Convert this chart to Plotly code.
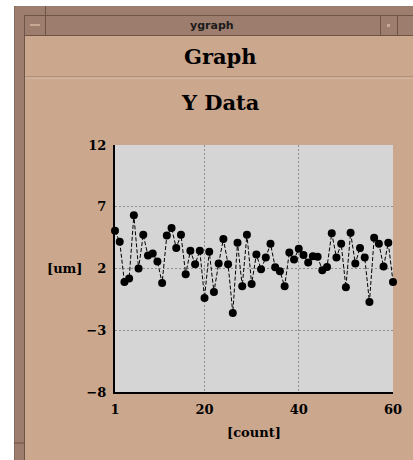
import plotly.graph_objects as go

# ---- data ----
count = list(range(1, 61))
y_data = [5.05, 4.16, 0.91, 1.19, 6.32, 2.00, 4.73, 3.05, 3.21, 2.57,
          0.83, 4.67, 5.27, 3.67, 4.73, 1.54, 3.43, 2.35, 3.43, -0.38,
          3.35, 0.10, 2.40, 4.38, 2.35, -1.60, 4.08, 0.56, 4.73, 0.75,
          3.13, 1.94, 2.89, 4.00, 2.11, 1.78, 0.56, 3.30, 2.73, 3.59,
          3.10, 2.49, 3.00, 2.95, 1.86, 2.13, 4.86, 2.89, 4.00, 0.48,
          4.89, 2.40, 3.67, 2.89, -0.71, 4.48, 4.00, 2.16, 4.08, 0.91]
x_ticks = [1, 20, 40, 60]
x_tick_text = ["1", "20", "40", "60"]
y_ticks = [-8, -3, 2, 7, 12]
y_tick_text = ["\u22128", "\u22123", "2", "7", "12"]

# ---- layout geometry (pixels) ----
W, H = 413, 460
L, R, T, B = 115, 20, 145, 68
PW, PH = W - L - R, H - T - B

def px(x):
    return (x - L) / PW

def py(y):
    return (H - B - y) / PH

TAN = "#CBA78D"
FRAME = "#9D7D6D"
DARK = "#6E5446"
SERIF = "DejaVu Serif"

fig = go.Figure()
fig.add_trace(go.Scatter(
    x=count, y=y_data, mode="lines+markers",
    line=dict(color="black", width=1, dash="4px,2px"),
    marker=dict(color="black", size=8),
    showlegend=False, cliponaxis=False,
))

shapes = []
def rect(x0, y0, x1, y1, fill, line_color=None, lw=0):
    shapes.append(dict(type="rect", xref="paper", yref="paper",
                       x0=px(x0), x1=px(x1), y0=py(y1), y1=py(y0),
                       fillcolor=fill,
                       line=dict(color=line_color or fill, width=lw),
                       layer="above"))

def hline(x0, x1, y, color, w=1):
    shapes.append(dict(type="line", xref="paper", yref="paper",
                       x0=px(x0), x1=px(x1), y0=py(y), y1=py(y),
                       line=dict(color=color, width=w), layer="above"))

def vline(x, y0, y1, color, w=1):
    shapes.append(dict(type="line", xref="paper", yref="paper",
                       x0=px(x), x1=px(x), y0=py(y0), y1=py(y1),
                       line=dict(color=color, width=w), layer="above"))

# white outside of window
rect(0, 0, 14, H, "white")
rect(0, 0, W, 6, "white")
# window frame and title bar
rect(14, 6, W, 36, FRAME)
rect(14, 6, 25, H, FRAME)
hline(25, W, 15.5, DARK)
hline(25, W, 35.5, DARK)
vline(24.5, 15, H, DARK)
vline(14.5, 6, H, "#8A6A5B")
vline(45.5, 6, 36, DARK)
vline(380.5, 15, 36, DARK)
vline(397.5, 15, 36, DARK)
hline(30, 40, 25, "#C9A995", 2)
rect(387, 24, 390, 27, "#C9A995")
hline(14, 25, 443, DARK)
# separator line under "Graph"
hline(25, W, 77, "#9A7A68", 1)
hline(25, W, 78, "#DDC3AE", 1)

annotations = [
    dict(text="<b>ygraph</b>", x=px(212), y=py(25), xref="paper", yref="paper",
         showarrow=False, font=dict(family="DejaVu Sans", size=11, color="#1a1a1a"),
         xanchor="center", yanchor="middle"),
    dict(text="<b>Graph</b>", x=px(220), y=py(56), xref="paper", yref="paper",
         showarrow=False, font=dict(family=SERIF, size=21, color="black"),
         xanchor="center", yanchor="middle"),
    dict(text="<b>Y Data</b>", x=px(220), y=py(102), xref="paper", yref="paper",
         showarrow=False, font=dict(family=SERIF, size=21, color="black"),
         xanchor="center", yanchor="middle"),
    dict(text="<b>[um]</b>", x=px(65), y=py(268), xref="paper", yref="paper",
         showarrow=False, font=dict(family=SERIF, size=13, color="black"),
         xanchor="center", yanchor="middle"),
    dict(text="<b>[count]</b>", x=px(254), y=py(432), xref="paper", yref="paper",
         showarrow=False, font=dict(family=SERIF, size=13, color="black"),
         xanchor="center", yanchor="middle"),
]

fig.update_layout(
    width=W, height=H,
    margin=dict(l=L, r=R, t=T, b=B, pad=0),
    paper_bgcolor=TAN, plot_bgcolor="#D5D5D5",
    shapes=shapes, annotations=annotations,
    xaxis=dict(range=[1, 60], tickvals=x_ticks,
               ticktext=["<b>%s</b>" % t for t in x_tick_text],
               showgrid=True, gridcolor="#8E8E8E", griddash="2px,2px", gridwidth=1,
               showline=True, linecolor="black", linewidth=2,
               ticks="outside", ticklen=4, tickcolor="rgba(0,0,0,0)",
               tickfont=dict(family=SERIF, size=13, color="black"),
               zeroline=False, fixedrange=True),
    yaxis=dict(range=[-8, 12], tickvals=y_ticks,
               ticktext=["<b>%s</b>" % t for t in y_tick_text],
               showgrid=True, gridcolor="#8E8E8E", griddash="2px,2px", gridwidth=1,
               showline=True, linecolor="black", linewidth=2,
               ticks="outside", ticklen=4, tickcolor="rgba(0,0,0,0)",
               tickfont=dict(family=SERIF, size=13, color="black"),
               zeroline=False, fixedrange=True),
)

fig.write_html("out.html", config={"displayModeBar": False},
               post_script="document.body.style.margin='0';document.body.style.overflow='hidden';")
